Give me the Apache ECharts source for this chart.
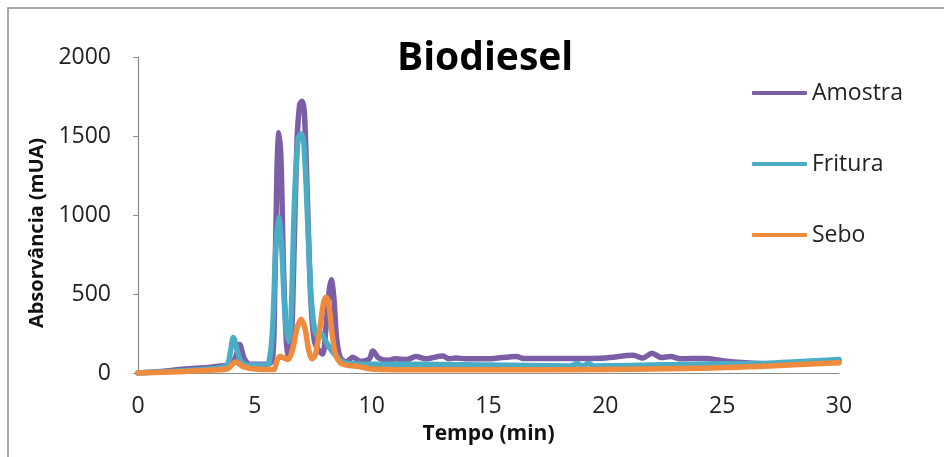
<!DOCTYPE html>
<html>
<head>
<meta charset="utf-8">
<script src="https://cdn.jsdelivr.net/npm/echarts@6/dist/echarts.min.js"></script>
<style>
html,body{margin:0;padding:0;background:#fff;}
#c{width:944px;height:457px;}
</style>
</head>
<body>
<div id="c"></div>
<script>
// ---- data (time in min, absorbance in mUA) ----
const seriesNames = ['Amostra', 'Fritura', 'Sebo'];
const xTicks = [0, 5, 10, 15, 20, 25, 30];
const yTicks = [0, 500, 1000, 1500, 2000];

const amostraT = [0, 1, 2, 3, 3.5, 4.0, 4.2, 4.35, 4.55, 4.8, 5.5, 5.75, 5.85, 5.95, 6.03, 6.12, 6.22, 6.35, 6.45, 6.55, 6.65, 6.8, 6.92, 7.02, 7.12, 7.25, 7.4, 7.55, 7.7, 7.9, 8.05, 8.18, 8.27, 8.38, 8.5, 8.65, 8.9, 9.2, 9.5, 9.9, 10.05, 10.3, 10.7, 11.0, 11.5, 11.9, 12.3, 13.05, 13.3, 13.6, 14, 15, 16.2, 16.5, 18, 19, 20, 21.2, 21.6, 22.0, 22.4, 22.8, 23.2, 24.3, 25, 26, 27, 28, 29, 30];
const amostraV = [0, 10, 25, 35, 45, 55, 110, 180, 90, 55, 55, 80, 500, 1300, 1520, 1350, 700, 200, 95, 150, 600, 1450, 1700, 1720, 1650, 1100, 450, 200, 150, 120, 300, 520, 590, 480, 220, 100, 70, 100, 75, 90, 140, 95, 80, 90, 85, 105, 90, 108, 90, 95, 90, 90, 105, 92, 92, 92, 95, 112, 95, 125, 98, 105, 90, 92, 78, 65, 58, 62, 70, 80];

const frituraT = [0, 2, 3, 3.8, 3.95, 4.08, 4.2, 4.35, 4.5, 4.7, 5.5, 5.6, 5.75, 5.9, 6.02, 6.15, 6.3, 6.45, 6.55, 6.7, 6.85, 6.98, 7.1, 7.25, 7.4, 7.55, 7.7, 7.85, 8.0, 8.2, 8.4, 8.7, 9.0, 10, 12, 15, 18.5, 18.8, 19.0, 19.3, 19.5, 22, 25, 27, 30];
const frituraV = [0, 15, 25, 50, 130, 225, 170, 90, 60, 50, 50, 60, 250, 800, 985, 800, 350, 200, 350, 1100, 1480, 1515, 1450, 1000, 500, 280, 230, 250, 210, 160, 120, 75, 60, 55, 55, 50, 45, 60, 45, 60, 45, 50, 58, 62, 85];

const seboT = [0, 2, 3, 3.8, 4.18, 4.5, 5, 5.8, 5.95, 6.08, 6.25, 6.4, 6.6, 6.8, 6.98, 7.15, 7.3, 7.45, 7.6, 7.8, 7.95, 8.05, 8.15, 8.3, 8.45, 8.65, 8.9, 9.5, 10, 12, 15, 20, 24, 27, 30];
const seboV = [0, 10, 18, 25, 70, 40, 25, 22, 80, 105, 95, 85, 140, 280, 340, 280, 150, 90, 120, 300, 450, 480, 450, 260, 120, 65, 50, 40, 25, 20, 20, 22, 30, 45, 65];

const colors = ['#7B5EA6', '#4BACC6', '#F08A3C'];

function zip(t, v) { return t.map((x, i) => [x, v[i]]); }
const dataSets = [zip(amostraT, amostraV), zip(frituraT, frituraV), zip(seboT, seboV)];

const font = '"Open Sans", "Liberation Sans", sans-serif';
const chart = echarts.init(document.getElementById('c'), null, {renderer: 'canvas'});
chart.setOption({
  animation: false,
  backgroundColor: '#fff',
  textStyle: {fontFamily: font},
  title: {
    text: 'Biodiesel',
    left: 392,
    top: 34,
    textStyle: {fontFamily: font, fontWeight: 'bold', fontSize: 39, color: '#000'}
  },
  graphic: [{
    type: 'rect',
    shape: {x: 8, y: 8, width: 1000, height: 500},
    style: {fill: 'none', stroke: '#8c8c8c', lineWidth: 1.5},
    silent: true, z: -1
  }],
  legend: {
    orient: 'vertical',
    left: 747,
    top: 76,
    icon: 'roundRect',
    itemWidth: 55,
    itemHeight: 4,
    itemGap: 47,
    textStyle: {fontFamily: font, fontSize: 23, color: '#222', lineHeight: 24},
    data: seriesNames
  },
  grid: {left: 138, right: 105, top: 57, bottom: 84, outerBoundsMode: 'none'},
  xAxis: {
    type: 'value', min: 0, max: 30, interval: 5,
    name: 'Tempo (min)', nameLocation: 'middle', nameGap: 51,
    nameTextStyle: {fontFamily: font, fontWeight: 'bold', fontSize: 21, color: '#111'},
    axisLine: {lineStyle: {color: '#8c8c8c', width: 1.2}},
    axisTick: {show: false},
    splitLine: {show: false},
    axisLabel: {fontFamily: font, fontSize: 23, color: '#222', margin: 22,
      formatter: v => xTicks.includes(v) ? String(v) : ''}
  },
  yAxis: {
    type: 'value', min: 0, max: 2000, interval: 500,
    name: 'Absorvância (mUA)', nameLocation: 'middle', nameGap: 90,
    nameTextStyle: {fontFamily: font, fontWeight: 'bold', fontSize: 20, color: '#111', padding: [0, 36, 0, 0]},
    axisLine: {show: true, lineStyle: {color: '#8c8c8c', width: 1.2}},
    axisTick: {show: true, length: 5, lineStyle: {color: '#8c8c8c'}},
    splitLine: {show: false},
    axisLabel: {fontFamily: font, fontSize: 23, color: '#222', margin: 27,
      formatter: v => yTicks.includes(v) ? String(v) : ''}
  },
  series: seriesNames.map((n, i) => ({
    name: n,
    type: 'line',
    data: dataSets[i],
    showSymbol: false,
    symbol: 'none',
    smooth: 0.3,
    color: colors[i],
    lineStyle: {width: 5.5, color: colors[i], cap: 'round', join: 'round'},
    z: 2 + i
  }))
});
</script>
</body>
</html>
